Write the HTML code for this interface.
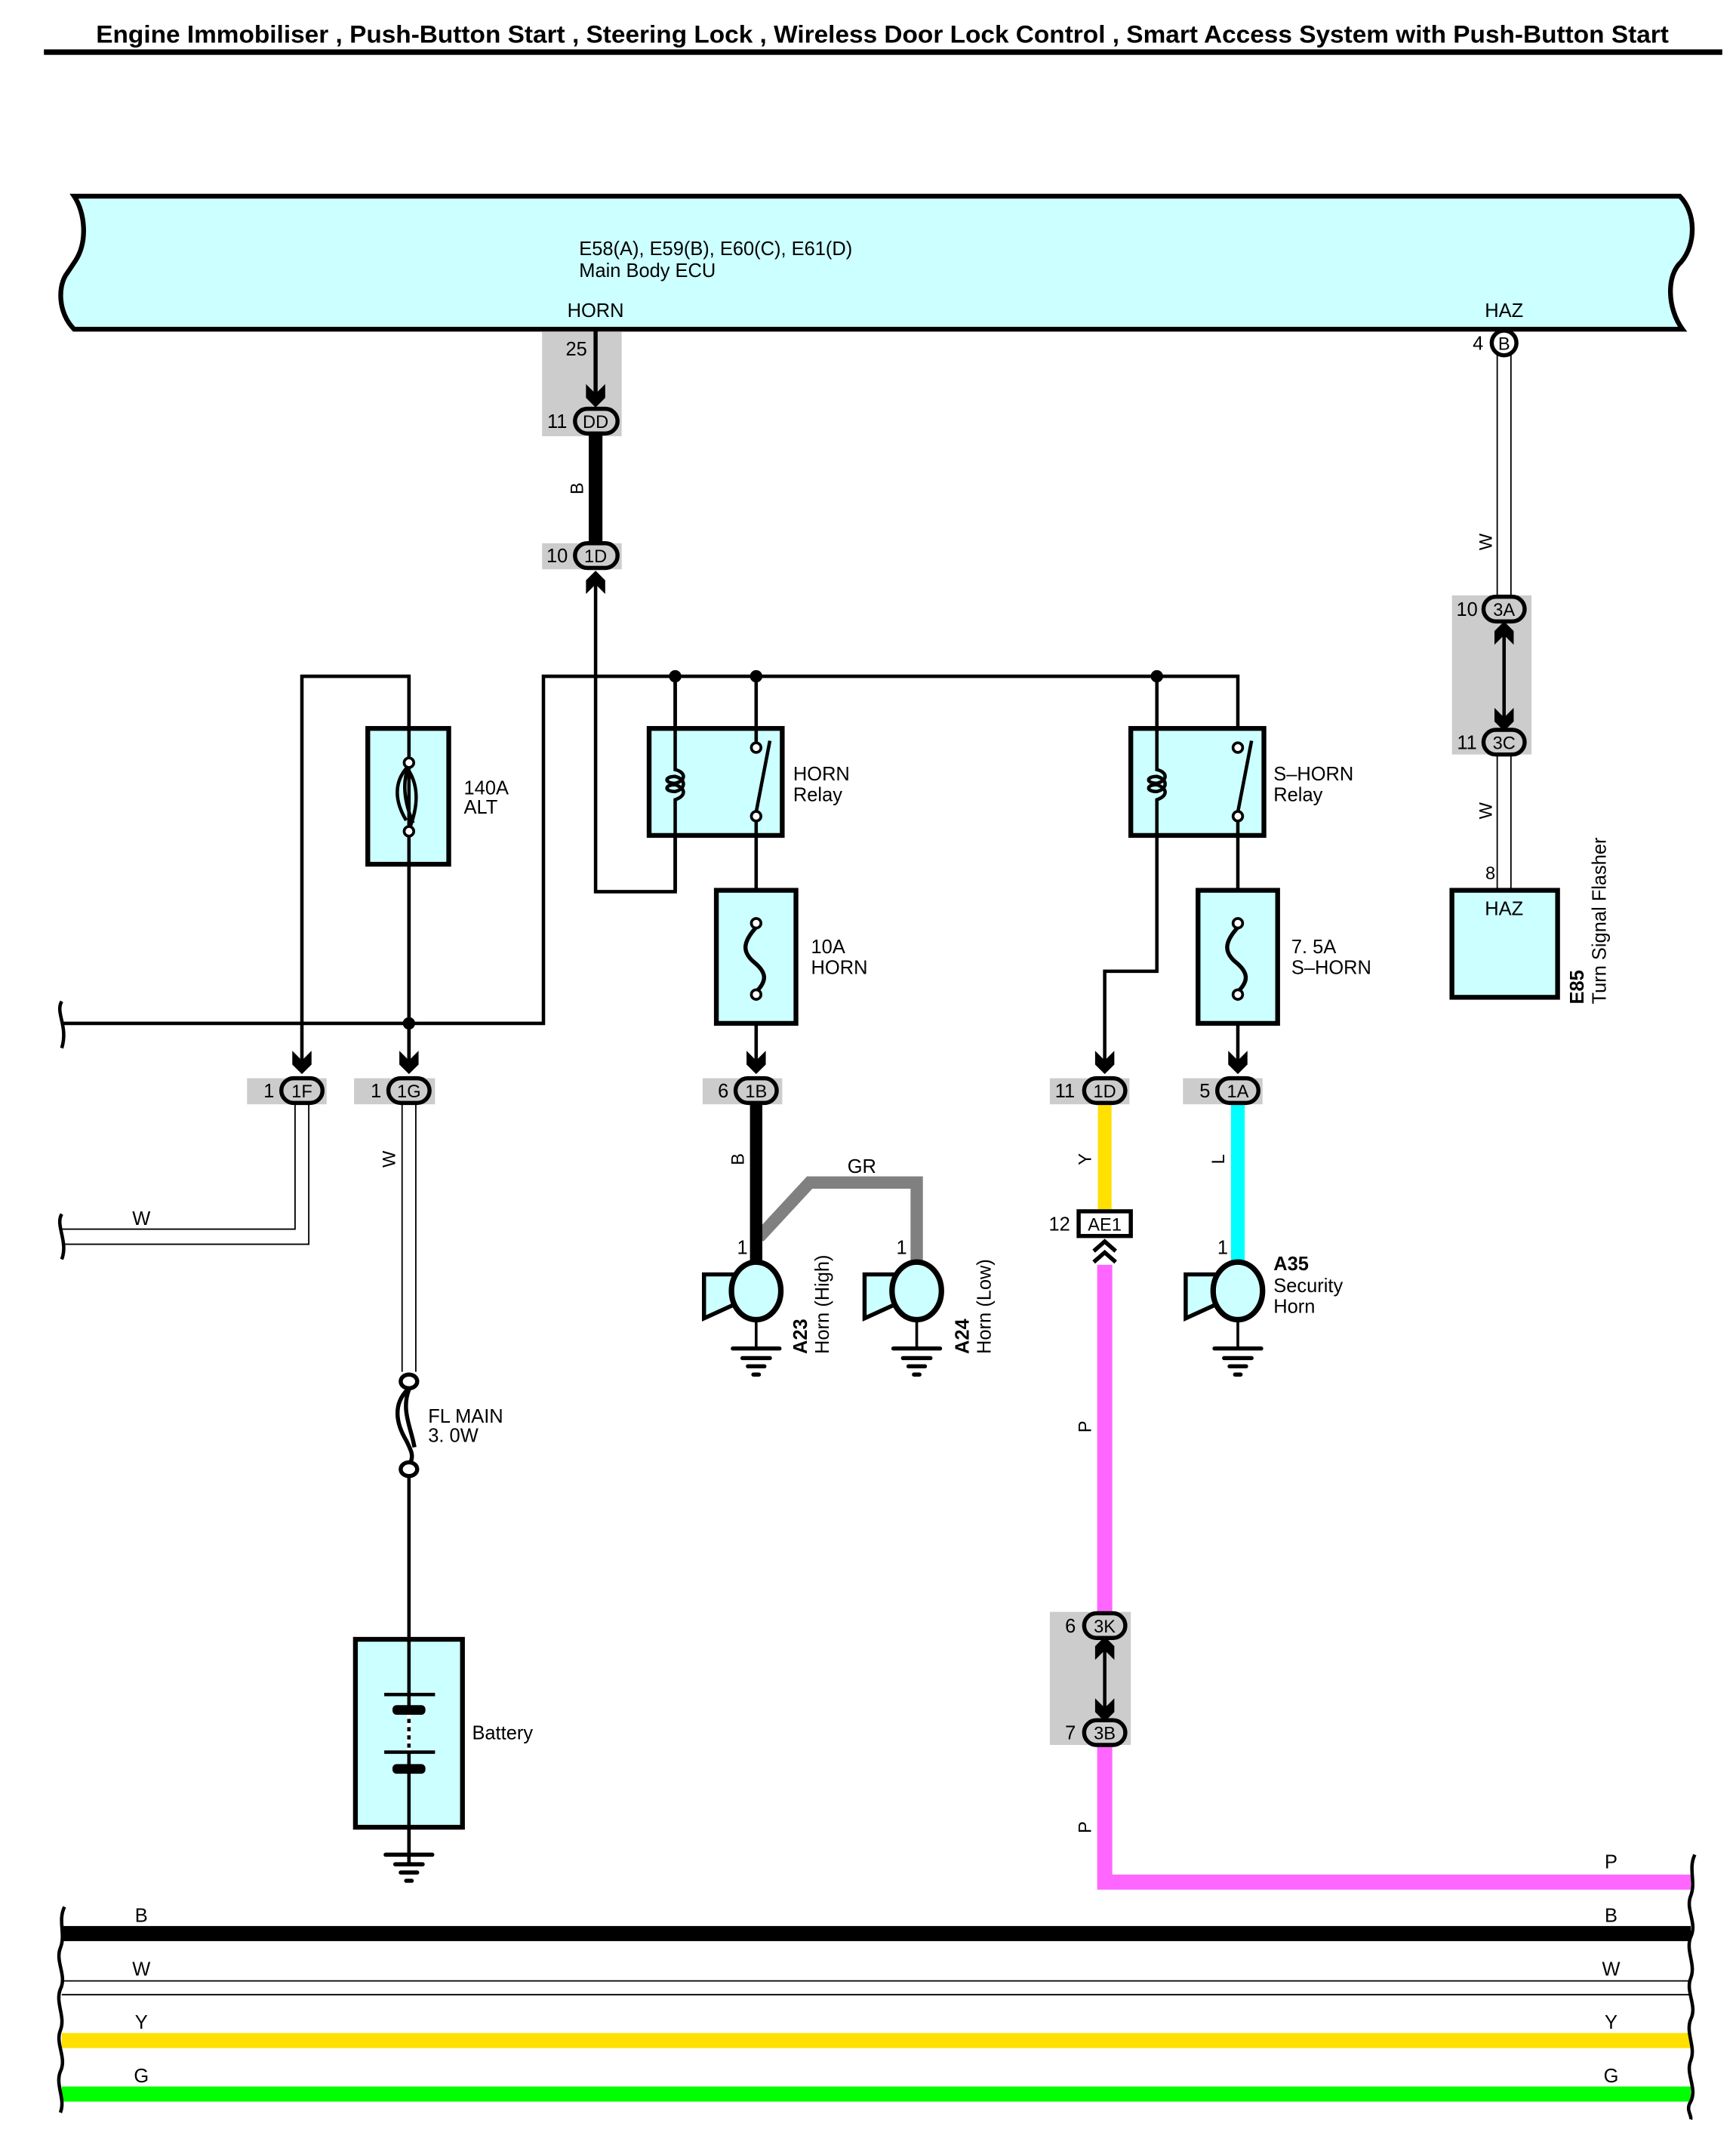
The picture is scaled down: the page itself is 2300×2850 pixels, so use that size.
<!DOCTYPE html>
<html><head><meta charset="utf-8"><style>html,body{margin:0;padding:0;background:#fff}svg{display:block}text{font-family:"Liberation Sans",Arial,sans-serif;fill:#000}</style></head><body>
<svg width="2300" height="2850" viewBox="0 0 1265 1568" preserveAspectRatio="none" xmlns="http://www.w3.org/2000/svg">
<defs>
<polygon id="ad" points="-7,-16 0,-9 7,-16 7,-6 0,1 -7,-6" fill="#000"/>
<polygon id="au" points="-7,16 0,9 7,16 7,6 0,-1 -7,6" fill="#000"/>
<g id="gnd" stroke="#000" stroke-linecap="round"><line x1="-17" y1="0" x2="17" y2="0" stroke-width="3"/><line x1="-10" y1="7" x2="10" y2="7" stroke-width="3"/><line x1="-6" y1="13" x2="6" y2="13" stroke-width="3"/><line x1="-2" y1="19" x2="2" y2="19" stroke-width="3"/></g>
<g id="horn"><polygon points="-38,-12 -16,-12 -16,10 -38,20" fill="#ccffff" stroke="#000" stroke-width="3"/><ellipse cx="0" cy="0" rx="18" ry="21" fill="#ccffff" stroke="#000" stroke-width="4"/><line x1="0" y1="21" x2="0" y2="42" stroke="#000" stroke-width="2"/><use href="#gnd" y="42"/></g>
<g id="fuse"><rect x="-29" y="0" width="58" height="97" fill="#ccffff" stroke="#000" stroke-width="3.5"/><path d="M0,27 C-10,38 -10,45 -2,52 C8,60 8,66 0,74" fill="none" stroke="#000" stroke-width="3"/><circle cx="0" cy="24" r="3.5" fill="#fff" stroke="#000" stroke-width="2"/><circle cx="0" cy="76" r="3.5" fill="#fff" stroke="#000" stroke-width="2"/></g>
<g id="relay"><rect x="0" y="0" width="97" height="78" fill="#ccffff" stroke="#000" stroke-width="3.5"/></g>
</defs>

<text x="643" y="31" font-size="18" font-weight="bold" text-anchor="middle" textLength="1146" lengthAdjust="spacingAndGlyphs">Engine Immobiliser , Push-Button Start , Steering Lock , Wireless Door Lock Control , Smart Access System with Push-Button Start</text>
<rect x="32" y="36" width="1223" height="4" fill="#000"/>

<!-- ECU -->
<path d="M54,143 L1224,143 C1236,155 1236,178 1225,191 C1214,201 1215,225 1226,240 L54,240 C42,228 42,208 49,199 L55,190 C64,176 62,155 54,143 Z" fill="#ccffff" stroke="#000" stroke-width="3.5"/>
<text x="422" y="186" font-size="14">E58(A), E59(B), E60(C), E61(D)</text>
<text x="422" y="202" font-size="14">Main Body ECU</text>
<text x="434" y="231" font-size="14" text-anchor="middle">HORN</text>
<text x="1096" y="231" font-size="14" text-anchor="middle">HAZ</text>

<!-- HORN line -->
<rect x="395" y="242" width="58" height="76" fill="#ccc"/>
<rect x="395" y="396" width="58" height="19" fill="#ccc"/>
<line x1="434" y1="240" x2="434" y2="295" stroke="#000" stroke-width="3"/>
<use href="#ad" x="434" y="296"/>
<text x="420" y="259" font-size="14" text-anchor="middle">25</text>
<line x1="434" y1="310" x2="434" y2="400" stroke="#000" stroke-width="10"/>
<rect x="419" y="298" width="31" height="18" rx="9" fill="#ccc" stroke="#000" stroke-width="3"/><text x="434" y="312" font-size="13" text-anchor="middle">DD</text><text x="406" y="312" font-size="14" text-anchor="middle">11</text>
<rect x="419" y="396" width="31" height="18" rx="9" fill="#ccc" stroke="#000" stroke-width="3"/><text x="434" y="410" font-size="13" text-anchor="middle">1D</text><text x="406" y="410" font-size="14" text-anchor="middle">10</text>
<text transform="translate(425,356) rotate(-90)" font-size="13" text-anchor="middle">B</text>
<use href="#au" x="434" y="417"/>
<polyline points="434,425 434,650 492,650 492,493" fill="none" stroke="#000" stroke-width="2.5"/>

<!-- top bus -->
<polyline points="45,746 396,746 396,493 902,493 902,540" fill="none" stroke="#000" stroke-width="2.5"/>
<circle cx="492" cy="493" r="4.5"/><circle cx="551" cy="493" r="4.5"/><circle cx="843" cy="493" r="4.5"/><circle cx="298" cy="746" r="4.5"/>
<path d="M45,730 C40,738 50,748 45,764" fill="none" stroke="#000" stroke-width="2.5"/>

<!-- ALT -->
<polyline points="220,778 220,493 298,493 298,778" fill="none" stroke="#000" stroke-width="2.5"/>
<rect x="268" y="531" width="59" height="99" fill="#ccffff" stroke="#000" stroke-width="3.5"/>
<line x1="298" y1="493" x2="298" y2="780" stroke="#000" stroke-width="2.5"/>
<path d="M298,558 C286,570 288,585 296,598 M298,558 C292,572 296,588 301,600 M298,562 C306,575 304,590 298,605" fill="none" stroke="#000" stroke-width="2.5"/>
<circle cx="298" cy="556" r="3.5" fill="#fff" stroke="#000" stroke-width="2"/><circle cx="298" cy="606" r="3.5" fill="#fff" stroke="#000" stroke-width="2"/>
<text x="338" y="579" font-size="14">140A</text><text x="338" y="593" font-size="14">ALT</text>
<use href="#ad" x="220" y="782"/><use href="#ad" x="298" y="782"/>
<rect x="180" y="786" width="58" height="19" fill="#ccc"/><rect x="258" y="786" width="59" height="19" fill="#ccc"/>
<rect x="205" y="786" width="30" height="18" rx="9" fill="#ccc" stroke="#000" stroke-width="3"/><text x="220" y="800" font-size="13" text-anchor="middle">1F</text><text x="196" y="800" font-size="14" text-anchor="middle">1</text>
<rect x="283" y="786" width="30" height="18" rx="9" fill="#ccc" stroke="#000" stroke-width="3"/><text x="298" y="800" font-size="13" text-anchor="middle">1G</text><text x="274" y="800" font-size="14" text-anchor="middle">1</text>
<!-- W to left -->
<polyline points="215,805 215,896 45,896" fill="none" stroke="#000" stroke-width="1"/>
<polyline points="225,805 225,907 45,907" fill="none" stroke="#000" stroke-width="1"/>
<path d="M45,885 C40,893 50,905 45,918" fill="none" stroke="#000" stroke-width="2.5"/>
<text x="103" y="893" font-size="14" text-anchor="middle">W</text>
<line x1="293" y1="805" x2="293" y2="1000" stroke="#000" stroke-width="1"/><line x1="303" y1="805" x2="303" y2="1000" stroke="#000" stroke-width="1"/>
<text transform="translate(288,845) rotate(-90)" font-size="13" text-anchor="middle">W</text>
<!-- FL MAIN -->
<path d="M297,1013 C285,1025 290,1040 296,1050 C300,1058 302,1062 298,1068 M298,1013 C292,1028 300,1042 302,1055" fill="none" stroke="#000" stroke-width="3"/>
<ellipse cx="298" cy="1007" rx="6" ry="5" fill="#fff" stroke="#000" stroke-width="3"/><ellipse cx="298" cy="1071" rx="6" ry="5" fill="#fff" stroke="#000" stroke-width="3"/>
<text x="312" y="1037" font-size="14">FL MAIN</text><text x="312" y="1051" font-size="14">3. 0W</text>
<line x1="298" y1="1076" x2="298" y2="1360" stroke="#000" stroke-width="2.5"/>
<rect x="259" y="1195" width="78" height="137" fill="#ccffff" stroke="#000" stroke-width="3.5"/>
<line x1="298" y1="1195" x2="298" y2="1360" stroke="#000" stroke-width="2.5"/>
<rect x="280" y="1234" width="37" height="2.5"/><rect x="286" y="1243" width="24" height="7" rx="3"/>
<rect x="280" y="1276" width="37" height="2.5"/><rect x="286" y="1286" width="24" height="7" rx="3"/>
<line x1="298" y1="1250" x2="298" y2="1276" stroke="#fff" stroke-width="3" stroke-dasharray="3,3"/>
<text x="344" y="1268" font-size="14">Battery</text>
<use href="#gnd" x="298" y="1352"/>

<!-- HORN relay -->
<use href="#relay" x="473" y="531"/>
<path d="M492,493 L492,561 C500,563 500,569 492,571 C484,571 484,566 492,566 C500,568 500,575 492,577 C484,577 484,572 492,572 C500,575 500,580 492,583 L492,650" fill="none" stroke="#000" stroke-width="2.5"/>
<line x1="551" y1="493" x2="551" y2="543" stroke="#000" stroke-width="2.5"/>
<line x1="551" y1="597" x2="551" y2="778" stroke="#000" stroke-width="2.5"/>
<line x1="551" y1="592" x2="561" y2="540" stroke="#000" stroke-width="2.5"/>
<circle cx="551" cy="545" r="3.5" fill="#fff" stroke="#000" stroke-width="2"/><circle cx="551" cy="595" r="3.5" fill="#fff" stroke="#000" stroke-width="2"/>
<text x="578" y="569" font-size="14">HORN</text><text x="578" y="584" font-size="14">Relay</text>
<use href="#fuse" x="551" y="649"/>
<text x="591" y="695" font-size="14">10A</text><text x="591" y="710" font-size="14">HORN</text>
<use href="#ad" x="551" y="782"/>
<rect x="512" y="786" width="58" height="19" fill="#ccc"/>
<rect x="536" y="786" width="30" height="18" rx="9" fill="#ccc" stroke="#000" stroke-width="3"/><text x="551" y="800" font-size="13" text-anchor="middle">1B</text><text x="527" y="800" font-size="14" text-anchor="middle">6</text>
<polyline points="553,902 590,862 668,862 668,922" fill="none" stroke="#808080" stroke-width="9"/>
<line x1="551" y1="804" x2="551" y2="922" stroke="#000" stroke-width="9"/>
<text transform="translate(542,845) rotate(-90)" font-size="13" text-anchor="middle">B</text>
<text x="628" y="855" font-size="14" text-anchor="middle">GR</text>
<text x="541" y="914" font-size="14" text-anchor="middle">1</text><text x="657" y="914" font-size="14" text-anchor="middle">1</text>
<use href="#horn" x="551" y="941"/><use href="#horn" x="668" y="941"/>
<text transform="translate(588,987) rotate(-90)" font-size="14" font-weight="bold">A23</text>
<text transform="translate(604,987) rotate(-90)" font-size="14">Horn (High)</text>
<text transform="translate(706,987) rotate(-90)" font-size="14" font-weight="bold">A24</text>
<text transform="translate(722,987) rotate(-90)" font-size="14">Horn (Low)</text>

<!-- S-HORN relay -->
<use href="#relay" x="824" y="531"/>
<path d="M843,493 L843,561 C851,563 851,569 843,571 C835,571 835,566 843,566 C851,568 851,575 843,577 C835,577 835,572 843,572 C851,575 851,580 843,583 L843,708 L805,708 L805,778" fill="none" stroke="#000" stroke-width="2.5"/>
<line x1="902" y1="597" x2="902" y2="778" stroke="#000" stroke-width="2.5"/>
<line x1="902" y1="592" x2="912" y2="540" stroke="#000" stroke-width="2.5"/>
<circle cx="902" cy="545" r="3.5" fill="#fff" stroke="#000" stroke-width="2"/><circle cx="902" cy="595" r="3.5" fill="#fff" stroke="#000" stroke-width="2"/>
<text x="928" y="569" font-size="14">S–HORN</text><text x="928" y="584" font-size="14">Relay</text>
<use href="#fuse" x="902" y="649"/>
<text x="941" y="695" font-size="14">7. 5A</text><text x="941" y="710" font-size="14">S–HORN</text>
<use href="#ad" x="805" y="782"/><use href="#ad" x="902" y="782"/>
<rect x="765" y="786" width="58" height="19" fill="#ccc"/><rect x="862" y="786" width="58" height="19" fill="#ccc"/>
<line x1="805" y1="804" x2="805" y2="884" stroke="#ffe000" stroke-width="10"/>
<line x1="902" y1="804" x2="902" y2="922" stroke="#00ffff" stroke-width="10"/>
<rect x="790" y="786" width="30" height="18" rx="9" fill="#ccc" stroke="#000" stroke-width="3"/><text x="805" y="800" font-size="13" text-anchor="middle">1D</text><text x="776" y="800" font-size="14" text-anchor="middle">11</text>
<rect x="887" y="786" width="30" height="18" rx="9" fill="#ccc" stroke="#000" stroke-width="3"/><text x="902" y="800" font-size="13" text-anchor="middle">1A</text><text x="878" y="800" font-size="14" text-anchor="middle">5</text>
<text transform="translate(795,845) rotate(-90)" font-size="13" text-anchor="middle">Y</text>
<text transform="translate(892,845) rotate(-90)" font-size="13" text-anchor="middle">L</text>
<rect x="786" y="883" width="38" height="18" fill="#fff" stroke="#000" stroke-width="3"/><text x="805" y="897" font-size="13" text-anchor="middle">AE1</text><text x="772" y="897" font-size="14" text-anchor="middle">12</text>
<polyline points="797,912 805,905 813,912" fill="none" stroke="#000" stroke-width="3"/><polyline points="797,920 805,913 813,920" fill="none" stroke="#000" stroke-width="3"/>
<polyline points="805,922 805,1372 1232,1372" fill="none" stroke="#ff66ff" stroke-width="11"/>
<text transform="translate(795,1040) rotate(-90)" font-size="13" text-anchor="middle">P</text>
<text transform="translate(795,1332) rotate(-90)" font-size="13" text-anchor="middle">P</text>
<text x="1174" y="1362" font-size="14" text-anchor="middle">P</text>
<rect x="765" y="1175" width="59" height="97" fill="#ccc"/>
<line x1="805" y1="1195" x2="805" y2="1252" stroke="#000" stroke-width="2.5"/>
<use href="#au" x="805" y="1194"/><use href="#ad" x="805" y="1254"/>
<rect x="790" y="1176" width="30" height="18" rx="9" fill="#ccc" stroke="#000" stroke-width="3"/><text x="805" y="1190" font-size="13" text-anchor="middle">3K</text><text x="780" y="1190" font-size="14" text-anchor="middle">6</text>
<rect x="790" y="1254" width="30" height="18" rx="9" fill="#ccc" stroke="#000" stroke-width="3"/><text x="805" y="1268" font-size="13" text-anchor="middle">3B</text><text x="780" y="1268" font-size="14" text-anchor="middle">7</text>
<text x="891" y="914" font-size="14" text-anchor="middle">1</text>
<use href="#horn" x="902" y="941"/>
<text x="928" y="926" font-size="14" font-weight="bold">A35</text><text x="928" y="942" font-size="14">Security</text><text x="928" y="957" font-size="14">Horn</text>

<!-- HAZ -->
<line x1="1091" y1="258" x2="1091" y2="436" stroke="#000" stroke-width="1"/><line x1="1101" y1="258" x2="1101" y2="436" stroke="#000" stroke-width="1"/>
<circle cx="1096" cy="250" r="9" fill="#fff" stroke="#000" stroke-width="3"/><text x="1096" y="255" font-size="13" text-anchor="middle">B</text><text x="1077" y="255" font-size="14" text-anchor="middle">4</text>
<text transform="translate(1087,395) rotate(-90)" font-size="13" text-anchor="middle">W</text>
<rect x="1058" y="434" width="58" height="116" fill="#ccc"/>
<line x1="1096" y1="455" x2="1096" y2="530" stroke="#000" stroke-width="2.5"/>
<use href="#au" x="1096" y="454"/><use href="#ad" x="1096" y="532"/>
<rect x="1081" y="435" width="30" height="18" rx="9" fill="#ccc" stroke="#000" stroke-width="3"/><text x="1096" y="449" font-size="13" text-anchor="middle">3A</text><text x="1069" y="449" font-size="14" text-anchor="middle">10</text>
<rect x="1081" y="532" width="30" height="18" rx="9" fill="#ccc" stroke="#000" stroke-width="3"/><text x="1096" y="546" font-size="13" text-anchor="middle">3C</text><text x="1069" y="546" font-size="14" text-anchor="middle">11</text>
<line x1="1091" y1="550" x2="1091" y2="649" stroke="#000" stroke-width="1"/><line x1="1101" y1="550" x2="1101" y2="649" stroke="#000" stroke-width="1"/>
<text transform="translate(1087,591) rotate(-90)" font-size="13" text-anchor="middle">W</text>
<text x="1086" y="641" font-size="13" text-anchor="middle">8</text>
<rect x="1058" y="649" width="77" height="78" fill="#ccffff" stroke="#000" stroke-width="3.5"/>
<text x="1096" y="667" font-size="14" text-anchor="middle">HAZ</text>
<text transform="translate(1154,732) rotate(-90)" font-size="14" font-weight="bold">E85</text>
<text transform="translate(1170,732) rotate(-90)" font-size="14">Turn Signal Flasher</text>

<!-- bottom buses -->
<rect x="45" y="1404" width="1187" height="11" fill="#000"/>
<line x1="45" y1="1444" x2="1232" y2="1444" stroke="#000" stroke-width="1"/><line x1="45" y1="1454" x2="1232" y2="1454" stroke="#000" stroke-width="1"/>
<rect x="45" y="1482" width="1187" height="11" fill="#ffe000"/>
<rect x="45" y="1521" width="1187" height="11" fill="#00ff00"/>
<text x="103" y="1401" font-size="14" text-anchor="middle">B</text><text x="1174" y="1401" font-size="14" text-anchor="middle">B</text>
<text x="103" y="1440" font-size="14" text-anchor="middle">W</text><text x="1174" y="1440" font-size="14" text-anchor="middle">W</text>
<text x="103" y="1479" font-size="14" text-anchor="middle">Y</text><text x="1174" y="1479" font-size="14" text-anchor="middle">Y</text>
<text x="103" y="1518" font-size="14" text-anchor="middle">G</text><text x="1174" y="1518" font-size="14" text-anchor="middle">G</text>
<g fill="none" stroke="#000" stroke-width="2.5">
<path d="M47,1390 C42,1400 48,1410 44,1420 C40,1430 49,1440 44,1450 C40,1460 48,1470 44,1480 C40,1490 49,1500 44,1510 C40,1520 48,1530 44,1540"/>
<path d="M1235,1352 C1230,1362 1236,1372 1232,1382 C1228,1392 1237,1402 1232,1412 C1228,1422 1236,1432 1232,1442 C1228,1452 1237,1462 1232,1472 C1228,1482 1236,1492 1232,1502 C1228,1512 1237,1522 1232,1532 C1228,1538 1233,1542 1232,1545"/>
</g>
</svg>
</body></html>
